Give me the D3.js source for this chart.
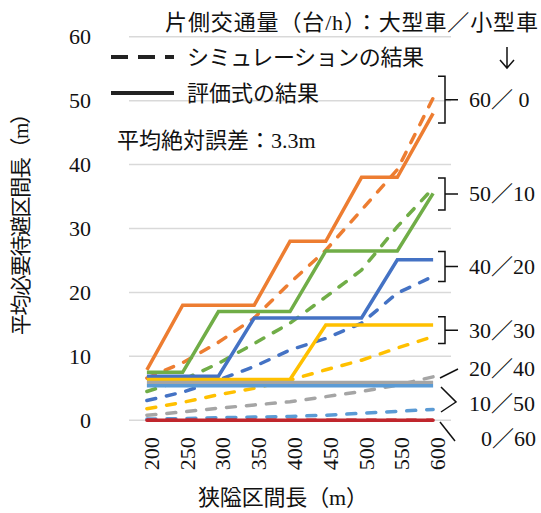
<!DOCTYPE html>
<html>
<head>
<meta charset="utf-8">
<script src="https://cdn.jsdelivr.net/npm/d3@7"></script>
<style>
  body { margin: 0; background: #fff; }
  text { font-family: "Liberation Serif", "Noto Sans CJK JP", serif; fill: #111; }
</style>
</head>
<body>
<svg id="chart" width="541" height="513"></svg>
<script>
// Data
const categories = [200, 250, 300, 350, 400, 450, 500, 550, 600];
const yTicks = [0, 10, 20, 30, 40, 50, 60];

// 評価式の結果 (solid)
const est60_0  = [7.9, 18, 18, 18, 28, 28, 38, 38, 48];
const est50_10 = [7.5, 7.5, 17, 17, 17, 26.5, 26.5, 26.5, 35.5];
const est40_20 = [6.9, 6.9, 6.9, 16, 16, 16, 16, 25.1, 25.1];
const est30_30 = [6.4, 6.4, 6.4, 6.4, 6.4, 14.9, 14.9, 14.9, 14.9];
const est20_40 = [5.9, 5.9, 5.9, 5.9, 5.9, 5.9, 5.9, 5.9, 5.9];
const est10_50 = [5.4, 5.4, 5.4, 5.4, 5.4, 5.4, 5.4, 5.4, 5.4];
const est0_60  = [0, 0, 0, 0, 0, 0, 0, 0, 0];

// シミュレーションの結果 (dashed)
const sim60_0  = [6.6, 9.0, 12.2, 16, 21.5, 26.6, 32.9, 39.2, 50.4];
const sim50_10 = [4.5, 6.3, 8.9, 12, 15.2, 19.3, 23.5, 30.3, 36.3];
const sim40_20 = [3.1, 4.4, 6.3, 8.4, 11, 12.8, 15.2, 19.9, 22.5];
const sim30_30 = [1.8, 2.8, 4.0, 5.0, 6.3, 7.9, 9.4, 11.3, 13.1];
const sim20_40 = [0.8, 1.3, 1.9, 2.4, 2.9, 3.7, 4.5, 5.5, 6.8];
const sim10_50 = [0.2, 0.25, 0.4, 0.5, 0.6, 0.8, 1.1, 1.4, 1.7];
const sim0_60  = [0, 0, 0, 0, 0, 0, 0, 0, 0];

const seriesColors = ["#ED7D31", "#70AD47", "#4472C4", "#FFC000", "#A5A5A5", "#5B9BD5", "#C0262D"];
const simSeries = [sim60_0, sim50_10, sim40_20, sim30_30, sim20_40, sim10_50, sim0_60];
const estSeries = [est60_0, est50_10, est40_20, est30_30, est20_40, est10_50, est0_60];

// right side annotations (data units)
const bracketLabels = [
  {label: "60／ 0", lo: 46.5, hi: 53.8},
  {label: "50／10", lo: 32.9, hi: 37.9},
  {label: "40／20", lo: 21.7, hi: 26.4},
  {label: "30／30", lo: 12.0, hi: 16.2}
];

const svg = d3.select("#chart");

const x = d3.scalePoint().domain(categories).range([129, 451]).padding(0.5);
const y = d3.scaleLinear().domain([0, 60]).range([420.3, 36.7]);

// gridlines
svg.append("g").selectAll("line")
  .data(yTicks)
  .enter().append("line")
  .attr("x1", 129).attr("x2", 451)
  .attr("y1", d => y(d)).attr("y2", d => y(d))
  .attr("stroke", "#d9d9d9")
  .attr("stroke-width", 1.5);

// y axis labels
const yAxis = svg.append("g")
  .attr("transform", "translate(91,0)")
  .call(d3.axisLeft(y).tickValues(yTicks).tickSize(0).tickPadding(0));
yAxis.select(".domain").remove();
yAxis.selectAll("text").style("font-size", "22px").style("font-family", "Liberation Serif").style("fill", "#111");

// x axis labels
const xAxis = svg.append("g")
  .attr("transform", `translate(0,${y(0)})`)
  .call(d3.axisBottom(x).tickSize(0).tickPadding(0));
xAxis.select(".domain").remove();
xAxis.selectAll("text")
  .style("font-size", "22px").style("font-family", "Liberation Serif").style("fill", "#111")
  .attr("text-anchor", "end")
  .attr("dominant-baseline", "central")
  .attr("transform", "translate(4,17) rotate(-90)")
  .attr("y", 0).attr("dy", 0).attr("x", 0);

const line = d3.line()
  .x((d, i) => x(categories[i]))
  .y(d => y(d));

// dashed simulation lines
svg.append("g").selectAll("path")
  .data(simSeries)
  .enter().append("path")
  .attr("d", line)
  .attr("fill", "none")
  .attr("stroke", (d, i) => seriesColors[i])
  .attr("stroke-width", 3.5)
  .attr("stroke-linecap", "round")
  .attr("stroke-dasharray", "9,11");

// solid evaluation lines
svg.append("g").selectAll("path")
  .data(estSeries)
  .enter().append("path")
  .attr("d", line)
  .attr("fill", "none")
  .attr("stroke", (d, i) => seriesColors[i])
  .attr("stroke-width", 3.5);

// title
svg.append("text")
  .attr("x", 165).attr("y", 22)
  .attr("dominant-baseline", "central")
  .attr("textLength", 373).attr("lengthAdjust", "spacing")
  .style("font-size", "22px")
  .text("片側交通量（台/h）：大型車／小型車");

// arrow
svg.append("path")
  .attr("d", "M507,47 V68 M500,60 L507,68 L514,60")
  .attr("fill", "none").attr("stroke", "#111").attr("stroke-width", 1.5);

// legend
svg.append("line")
  .attr("x1", 111).attr("x2", 174).attr("y1", 57).attr("y2", 57)
  .attr("stroke", "#222").attr("stroke-width", 4).attr("stroke-dasharray", "17,10");
svg.append("text")
  .attr("x", 187).attr("y", 57).attr("dominant-baseline", "central")
  .attr("textLength", 237).attr("lengthAdjust", "spacing")
  .style("font-size", "22px").text("シミュレーションの結果");
svg.append("line")
  .attr("x1", 111).attr("x2", 174).attr("y1", 93).attr("y2", 93)
  .attr("stroke", "#222").attr("stroke-width", 4);
svg.append("text")
  .attr("x", 187).attr("y", 93).attr("dominant-baseline", "central")
  .style("font-size", "22px").text("評価式の結果");

svg.append("text")
  .attr("x", 117).attr("y", 140).attr("dominant-baseline", "central")
  .style("font-size", "22px").text("平均絶対誤差：3.3m");

// brackets
const ann = svg.append("g").attr("stroke", "#111").attr("stroke-width", 1.5).attr("fill", "none");
bracketLabels.forEach(b => {
  const y0 = y(b.hi), y1 = y(b.lo), ym = (y0 + y1) / 2;
  ann.append("path").attr("d", `M438,${y0} H445 V${y1} H438 M445,${ym} H458`);
  svg.append("text")
    .attr("x", 469).attr("y", ym).attr("dominant-baseline", "central")
    .style("font-size", "22px").text(b.label);
});
// small pointers for the low series
ann.append("path").attr("d", "M440,378 L458,369");
ann.append("path").attr("d", "M441,387 L456,402 L441,412");
ann.append("path").attr("d", "M440,422 L455,441");
svg.append("text").attr("x", 469).attr("y", 368).attr("dominant-baseline", "central")
  .style("font-size", "22px").text("20／40");
svg.append("text").attr("x", 469).attr("y", 403).attr("dominant-baseline", "central")
  .style("font-size", "22px").text("10／50");
svg.append("text").attr("x", 481).attr("y", 438).attr("dominant-baseline", "central")
  .style("font-size", "22px").text("0／60");

// axis titles
svg.append("text")
  .attr("x", 283).attr("y", 497)
  .attr("text-anchor", "middle").attr("dominant-baseline", "central")
  .attr("textLength", 170).attr("lengthAdjust", "spacing")
  .style("font-size", "22px").text("狭隘区間長（m）");
svg.append("text")
  .attr("transform", "translate(21,219) rotate(-90)")
  .attr("text-anchor", "middle").attr("dominant-baseline", "central")
  .attr("textLength", 232).attr("lengthAdjust", "spacing")
  .style("font-size", "21px").text("平均必要待避区間長（m）");
</script>
</body>
</html>
